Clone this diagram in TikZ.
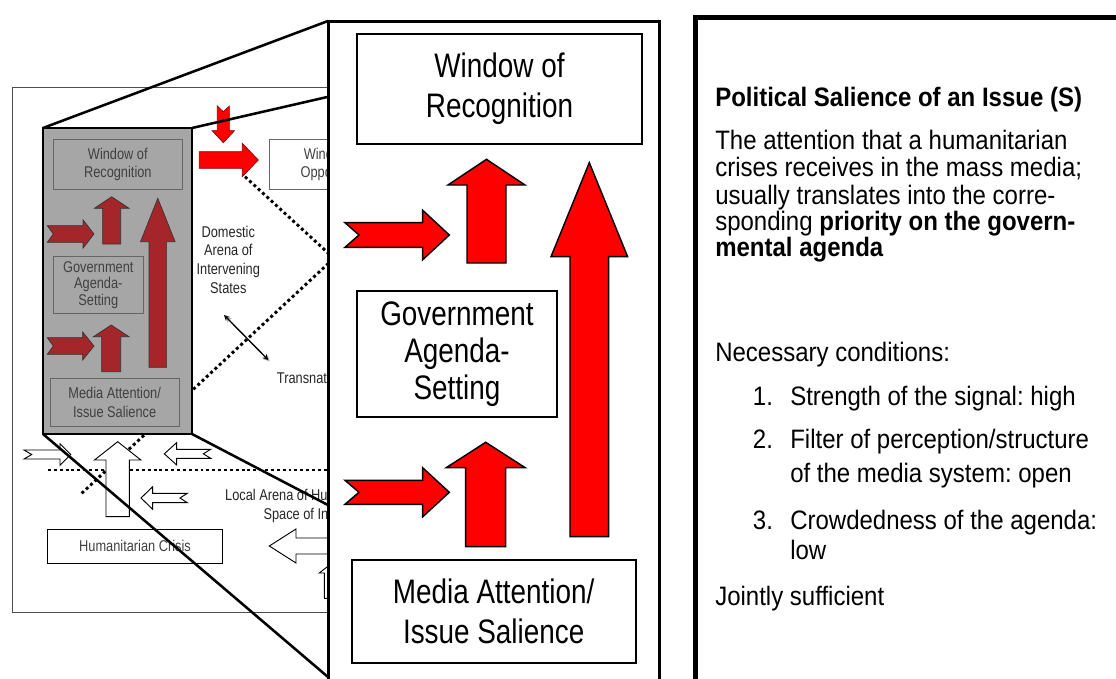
\documentclass[tikz,border=0pt]{standalone}
\usepackage{fontspec}
\setmainfont{Liberation Sans}[FakeStretch=0.9]
\newfontfamily\narrowfont{Liberation Sans}[FakeStretch=0.82]
\usepackage{xcolor}
\usepackage{tikz}
\usetikzlibrary{shapes,arrows,positioning}

\definecolor{boxred}{RGB}{165,38,42}
\definecolor{panelgray}{RGB}{166,166,166}
\definecolor{inkgray}{RGB}{64,64,64}

\newcommand{\notesize}{\fontsize{20}{27}\selectfont}

% block arrow: style, tail, angle, length, shaft half width, head half width, head length, notch
\newcommand{\blockarrow}[8]{%
    \begin{scope}[shift={#2},rotate=#3]
        \draw[#1] (0,-#5) -- ({#4-#7},-#5) -- ({#4-#7},-#6) -- (#4,0)
            -- ({#4-#7},#6) -- ({#4-#7},#5) -- (0,#5) -- (#8,0) -- cycle;
    \end{scope}}

\tikzset{
    redarrow/.style={fill=red, draw=black, line width=1.1pt, line join=miter},
    brownarrow/.style={fill=boxred, draw=black!80, line width=0.5pt},
    hotarrow/.style={fill=red, draw=red!55!black, line width=0.5pt},
    hollowarrow/.style={fill=white, draw=black, line width=0.7pt},
    bigbox/.style={draw=black, line width=1.5pt, fill=white},
    smallbox/.style={draw=black!60, line width=0.7pt},
    bigtext/.style={font=\narrowfont\fontsize{25.5}{30}\selectfont, align=center},
    smalltext/.style={font=\narrowfont\fontsize{11.7}{14}\selectfont, align=center, text=inkgray},
    notetext/.style={font=\notesize, anchor=base west, inner sep=0pt},
    dotline/.style={line width=2.2pt, dash pattern=on 2.2pt off 2.2pt},
    frameline/.style={line width=1.9pt}
}

\frenchspacing

\begin{document}
\begin{tikzpicture}[x=0.75pt,y=-0.75pt]
    \clip (0,0) rectangle (1116,678);

    % the shrunk overview behind the zoom
    \draw[line width=0.75pt, draw=black!70] (12.7,87.3) rectangle (345,612.3);

    \draw[dotline] (48,470) -- (345,470);
    \draw[dotline] (245,176.7) -- (345,268.5);
    \draw[dotline] (81.7,493.3) -- (345,247.9);

    \node[smalltext, text=black!85] (domestic) at (228.3,259.5) {Domestic\\Arena of\\Intervening\\States};
    \node[smalltext, text=black!85, anchor=base west, inner sep=0pt] (transnat) at (276.7,383) {Transnational};
    \node[smalltext, text=black!85] (localarena) at (324,506) {Local Arena of Humanitarian Crisis\\Space of Intervention};

    \draw[gray!60, line width=1.1pt, stealth-stealth] (225.5,316.5) -- (269.8,361.5);
    \draw[black, line width=0.9pt, stealth-stealth] (224,315) -- (268.3,360);

    \blockarrow{hollowarrow}{(24,454.5)}{0}{46.7}{4.5}{10.8}{10.7}{7.7}
    \blockarrow{hollowarrow}{(117.7,516.7)}{90}{75}{11.7}{23.2}{18.3}{0}
    \blockarrow{hollowarrow}{(210.7,453.8)}{180}{46.4}{4.5}{11.2}{12.4}{7.4}
    \blockarrow{hollowarrow}{(187.3,498)}{180}{46.3}{4.7}{11.3}{11.7}{7.3}
    \blockarrow{hollowarrow}{(360,546)}{180}{90.7}{8}{17}{26.7}{0}
    \blockarrow{hollowarrow}{(333,598.3)}{90}{36}{8.7}{13.7}{10.7}{0}

    \draw[smallbox, fill=white] (269.3,139.3) rectangle (398,189.3) node[pos=.5, smalltext] (winopp) {Window of\\Opportunity};
    \draw[line width=0.7pt, fill=white] (47.3,529) rectangle (222.7,563.3) node[pos=.5, smalltext] (crisis) {Humanitarian Crisis};

    \blockarrow{hotarrow}{(223.3,106)}{-90}{36.7}{6}{11.2}{12}{5.7}
    \blockarrow{hotarrow}{(199.3,160)}{0}{59}{8.3}{16.7}{16}{0}

    % grey front face
    \draw[line width=1.5pt, fill=panelgray] (43,128) rectangle (192,434);
    \draw[smallbox] (53.3,139.3) rectangle (182.3,189.3) node[pos=.5, smalltext] (smallwin) {Window of\\Recognition};
    \draw[smallbox] (53.3,256.7) rectangle (143.3,313.3) node[pos=.5, smalltext, font=\narrowfont\fontsize{11.7}{12.5}\selectfont] (smallgov) {Government\\Agenda-\\Setting};
    \draw[smallbox] (50,378.3) rectangle (179.3,426) node[pos=.5, smalltext] (smallmedia) {Media Attention/\\Issue Salience};

    \blockarrow{brownarrow}{(111.7,244)}{90}{47.3}{9}{17.3}{11.6}{0}
    \blockarrow{brownarrow}{(47.3,234)}{0}{46.7}{8.3}{14.2}{11}{6}
    \blockarrow{brownarrow}{(157.8,367.3)}{90}{169}{8.8}{17.3}{43.4}{0}
    \blockarrow{brownarrow}{(111.2,371.7)}{90}{46.7}{9.5}{17.8}{11.7}{0}
    \blockarrow{brownarrow}{(47.3,346)}{0}{46.7}{8.3}{14}{11.3}{6}

    % projection lines
    \draw[frameline] (43,128) -- (328,21);
    \draw[frameline] (192,128) -- (659,21);
    \draw[frameline] (43,434) -- (328,677);
    \draw[frameline] (192,434) -- (659,678);

    % zoomed panel
    \draw[line width=2.25pt, fill=white] (328,21) rectangle (659,700);
    \draw[bigbox] (357,34) rectangle (642,144) node[pos=.5, bigtext] (winrec) {Window of\\Recognition};
    \draw[bigbox] (357,291) rectangle (557,417) node[pos=.5, bigtext, font=\narrowfont\fontsize{25.5}{28}\selectfont] (govagenda) {Government\\Agenda-\\Setting};
    \draw[bigbox] (351.7,560) rectangle (635.7,662.7) node[pos=.5, bigtext] (mediaatt) {Media Attention/\\Issue Salience};

    \blockarrow{redarrow}{(486.5,263)}{90}{103.7}{19.5}{38.5}{25.7}{0}
    \blockarrow{redarrow}{(345,235)}{0}{104.3}{12.3}{24.7}{26.6}{14}
    \blockarrow{redarrow}{(589.3,536.7)}{90}{374}{19.3}{38.3}{94}{0}
    \blockarrow{redarrow}{(485.7,546.7)}{90}{104.4}{20}{39.5}{25.4}{0}
    \blockarrow{redarrow}{(345,492.3)}{0}{104.3}{12}{24.5}{26.6}{14}

    % definition panel
    \draw[line width=3.75pt] (695,700) -- (695,17) -- (1130,17);

    \node[notetext, font=\notesize\bfseries] (title) at (715,106.7) {Political Salience of an Issue (S)};
    \node[notetext] (defa) at (715,149.3) {The attention that a humanitarian};
    \node[notetext] (defb) at (715,176.7) {crises receives in the mass media;};
    \node[notetext] (defc) at (715,204) {usually translates into the corre-};
    \node[notetext] (defd) at (715,230.7) {sponding \textbf{priority on the govern-}};
    \node[notetext] (defe) at (715,256.7) {\textbf{mental agenda}};

    \node[notetext] (necessary) at (715,361.7) {Necessary conditions:};
    \node[notetext] (numa) at (752.7,405) {1.};
    \node[notetext] (itema) at (790,405) {Strength of the signal: high};
    \node[notetext] (numb) at (752.7,448.3) {2.};
    \node[notetext] (itemb) at (790,448.3) {Filter of perception/structure};
    \node[notetext] (itembb) at (790,482.7) {of the media system: open};
    \node[notetext] (numc) at (752.7,529) {3.};
    \node[notetext] (itemc) at (790,529) {Crowdedness of the agenda:};
    \node[notetext] (itemcc) at (790,559.3) {low};
    \node[notetext] (jointly) at (715,605) {Jointly sufficient};
\end{tikzpicture}
\end{document}
